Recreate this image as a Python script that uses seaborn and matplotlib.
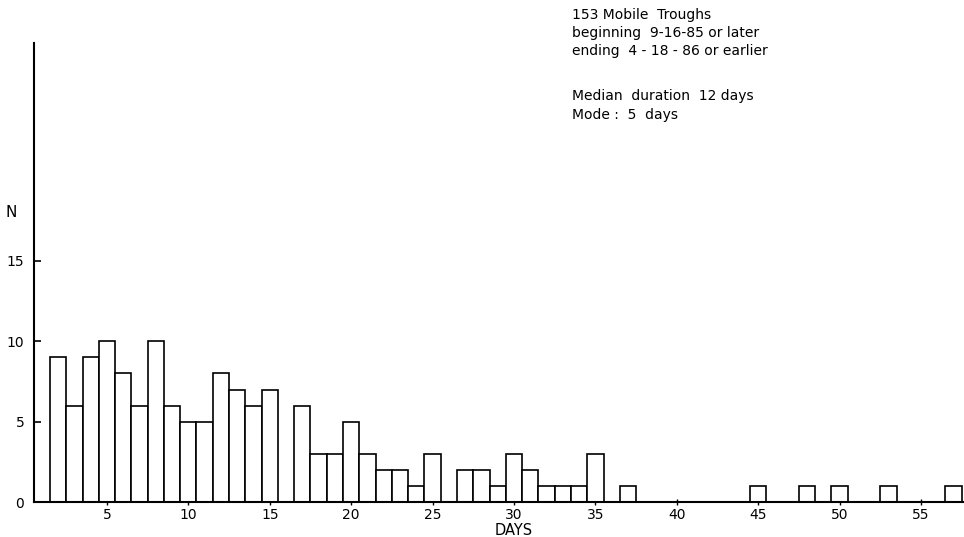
import matplotlib
matplotlib.use("Agg")
import matplotlib.pyplot as plt
import seaborn as sns
import pandas as pd

# Data (duration in days -> number of troughs)
days = [2, 3, 4, 5, 6, 7, 8, 9, 10, 11, 12, 13, 14, 15, 17, 18, 19, 20, 21, 22,
        23, 24, 25, 27, 28, 29, 30, 31, 32, 33, 34, 35, 37, 45, 48, 50, 53, 57]
counts = [9, 6, 9, 10, 8, 6, 10, 6, 5, 5, 8, 7, 6, 7, 6, 3, 3, 5, 3, 2,
          2, 1, 3, 2, 2, 1, 3, 2, 1, 1, 1, 3, 1, 1, 1, 1, 1, 1]
xticks = [5, 10, 15, 20, 25, 30, 35, 40, 45, 50, 55]
yticks = [0, 5, 10, 15]
info_lines = ["153 Mobile  Troughs",
              "beginning  9-16-85 or later",
              "ending  4 - 18 - 86 or earlier",
              "Median  duration  12 days",
              "Mode :  5  days"]

sns.set_style("ticks")
plt.rcParams['font.family'] = ['DejaVu Sans']
plt.rcParams['text.color'] = 'black'
plt.rcParams['xtick.color'] = 'black'
plt.rcParams['ytick.color'] = 'black'

df = pd.DataFrame({"days": days, "n": counts})

fig = plt.figure(figsize=(9.64, 5.37), dpi=100)
ax = fig.add_axes([34/964, 35/537, 1 - 34/964, (502-43)/537])

sns.histplot(data=df, x="days", weights="n", discrete=True, ax=ax,
             color="white", edgecolor="black", linewidth=1.2, alpha=1)

ax.set_xlim(0.52, 57.64)
ax.set_ylim(0, 28.56)
ax.set_xticks(xticks)
ax.set_yticks(yticks)
ax.set_xticklabels([str(t) for t in xticks], fontsize=10)
ax.set_yticklabels([str(t) for t in yticks], fontsize=10)
ax.tick_params(axis="y", direction="in", length=5, width=1.2, pad=7)
ax.tick_params(axis="x", direction="inout", length=5, width=1.0, pad=2)
for s in ["top", "right"]:
    ax.spines[s].set_visible(False)
for s in ["left", "bottom"]:
    ax.spines[s].set_linewidth(1.5)
    ax.spines[s].set_color("black")
ax.set_xlabel("")
ax.set_ylabel("")

ax.text(30, -1.75, "DAYS", ha="center", va="center", fontsize=10.5)
ax.text(-0.9, 18.0, "N", ha="center", va="center", fontsize=11)

line_y = [15, 33, 51, 96, 115]
for yy, line in zip(line_y, info_lines):
    fig.text(572/964, 1 - yy/537, line, ha="left", va="center", fontsize=10)

fig.savefig("out.png", dpi=100)
